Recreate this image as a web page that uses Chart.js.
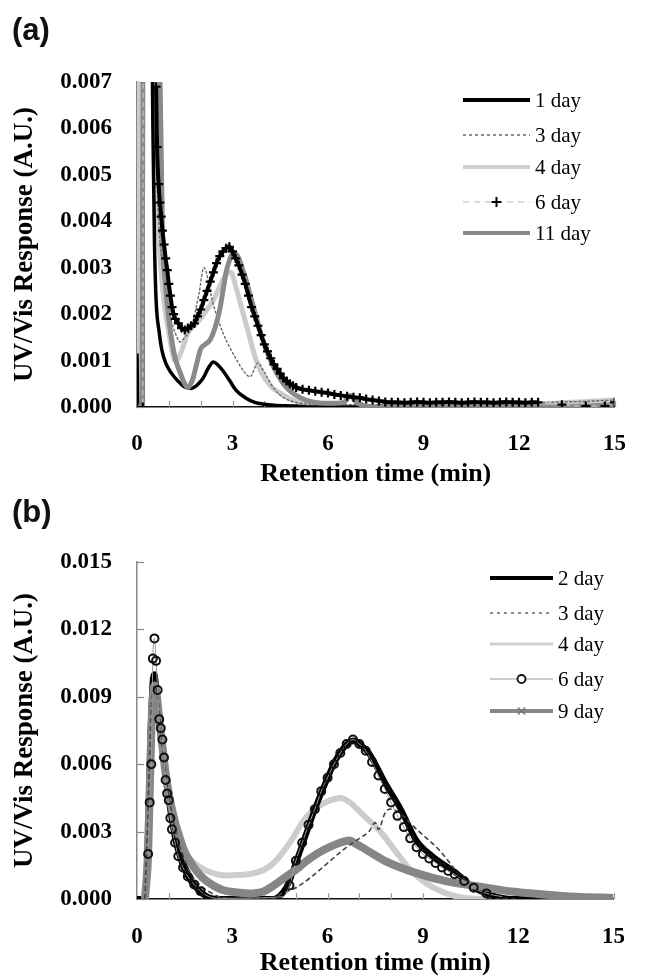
<!DOCTYPE html>
<html><head><meta charset="utf-8">
<script src="https://cdn.jsdelivr.net/npm/chart.js@4.4.1/dist/chart.umd.min.js"></script>
<style>
html,body{margin:0;padding:0;background:#fff;width:649px;height:979px;overflow:hidden}
#wrap{position:relative;width:649px;height:979px;background:#fff}
canvas{position:absolute;left:0}
#ca{top:0}
#cb{top:490px}
.panel{position:absolute;left:12px;font:bold 31px 'Liberation Sans',Arial,sans-serif;line-height:36px;color:#111}
</style></head>
<body><div id="wrap">
<canvas id="ca" width="649" height="490"></canvas>
<canvas id="cb" width="649" height="489"></canvas>
<div class="panel" style="top:12px">(a)</div>
<div class="panel" style="top:494px">(b)</div>
</div>
<script>
// ---------- Panel (a) data ----------
const labelsA = ['1 day', '3 day', '4 day', '6 day', '11 day'];
const a1x = [0, 0.03, 0.18, 0.2, 0.45, 0.5, 0.55, 0.6, 0.7, 0.78, 0.9, 1.08, 1.3, 1.5, 1.7, 1.85, 2.0, 2.1, 2.25, 2.4, 2.55, 2.7, 2.9, 3.1, 3.4, 3.7, 4.0, 4.3, 5.0, 5.5, 7.0, 9.0, 11.0, 12.6];
const a1y = [0.00115, 0, 0, 0.009, 0.009, 0.006, 0.0035, 0.0023, 0.0016, 0.00123, 0.00095, 0.00073, 0.00055, 0.00043, 0.0004, 0.00045, 0.00055, 0.00065, 0.00085, 0.00097, 0.0009, 0.00078, 0.00058, 0.00037, 0.0002, 0.0001, 0.00006, 0.00004, 0.00002, 0, 0, 0, 0, 0];
const a3x = [0, 0.18, 0.2, 0.5, 0.6, 0.7, 0.8, 0.9, 1.0, 1.1, 1.2, 1.35, 1.5, 1.7, 1.95, 2.1, 2.4, 2.7, 3.1, 3.4, 3.55, 3.8, 4.0, 4.3, 4.6, 5.0, 6.0, 8.0, 10.0, 12.0, 13.0, 14.0, 15.0];
const a3y = [0, 0, 0.009, 0.009, 0.0055, 0.0038, 0.003, 0.0025, 0.0021, 0.0018, 0.0016, 0.0014, 0.0015, 0.0017, 0.00245, 0.003, 0.0022, 0.0016, 0.00105, 0.00073, 0.00065, 0.00095, 0.00075, 0.0004, 0.0002, 0.0001, 0.00005, 0.00005, 0.00005, 0.00005, 0.0001, 0.00012, 0.00015];
const a4x = [0, 0.03, 0.55, 0.62, 0.7, 0.8, 0.9, 1.0, 1.1, 1.2, 1.3, 1.45, 1.6, 1.8, 2.0, 2.2, 2.4, 2.6, 2.8, 2.95, 3.1, 3.3, 3.5, 3.7, 3.9, 4.2, 4.5, 4.9, 5.5, 6.0, 9.0, 12.0, 15.0];
const a4y = [0, 0.009, 0.009, 0.005, 0.0035, 0.0026, 0.002, 0.0016, 0.0012, 0.001, 0.00105, 0.0013, 0.0016, 0.00175, 0.0019, 0.0021, 0.0023, 0.0026, 0.00285, 0.0029, 0.0026, 0.0021, 0.0016, 0.0011, 0.00075, 0.00045, 0.0003, 0.00015, 0.00005, 0, 0, 0.00005, 0.00015];
const a6x = [0, 0.18, 0.2, 0.55, 0.6, 0.63, 0.68, 0.72, 0.76, 0.8, 0.85, 0.9, 0.95, 1.0, 1.05, 1.1, 1.15, 1.2, 1.3, 1.4, 1.5, 1.6, 1.7, 1.8, 1.9, 2.0, 2.1, 2.2, 2.3, 2.4, 2.5, 2.6, 2.7, 2.8, 2.9, 3.0, 3.1, 3.2, 3.3, 3.4, 3.5, 3.6, 3.7, 3.8, 3.9, 4.0, 4.1, 4.2, 4.3, 4.4, 4.5, 4.6, 4.7, 4.8, 4.9, 5.0, 5.2, 5.4, 5.6, 5.8, 6.0, 6.2, 6.4, 6.6, 6.8, 7.0, 7.2, 7.4, 7.6, 7.8, 8.0, 8.2, 8.4, 8.6, 8.8, 9.0, 9.2, 9.4, 9.6, 9.8, 10.0, 10.2, 10.4, 10.6, 10.8, 11.0, 11.2, 11.4, 11.6, 11.8, 12.0, 12.2, 12.4, 12.6, 13.35, 14.1, 14.7, 15.0];
const a6y = [0, 0, 0.009, 0.009, 0.0069, 0.0056, 0.0048, 0.0044, 0.0041, 0.0038, 0.0035, 0.0032, 0.00295, 0.00265, 0.0024, 0.00215, 0.002, 0.0019, 0.0018, 0.0017, 0.00166, 0.0017, 0.00175, 0.0018, 0.00195, 0.0021, 0.0023, 0.0025, 0.0027, 0.0029, 0.0031, 0.00325, 0.00335, 0.00342, 0.00345, 0.00335, 0.0032, 0.00305, 0.00285, 0.00265, 0.0024, 0.00215, 0.00195, 0.00175, 0.00155, 0.00135, 0.0012, 0.00105, 0.00092, 0.00082, 0.00072, 0.00062, 0.00056, 0.0005, 0.00046, 0.00042, 0.00038, 0.00036, 0.00034, 0.00032, 0.0003, 0.00027, 0.00025, 0.00023, 0.00021, 0.0002, 0.00017, 0.00015, 0.00013, 0.00011, 0.0001, 0.0001, 0.00009, 0.0001, 0.00011, 0.0001, 0.00009, 0.0001, 0.0001, 0.00011, 0.0001, 0.00009, 0.0001, 0.00011, 0.0001, 0.0001, 0.00009, 0.0001, 0.00011, 0.0001, 0.0001, 0.00009, 0.0001, 0.0001, 0.00005, 0.00002, 0.00002, 0.0001];
const a11x = [0, 0.15, 0.2, 0.68, 0.72, 0.76, 0.8, 0.9, 1.0, 1.1, 1.2, 1.35, 1.5, 1.6, 1.75, 1.9, 2.0, 2.15, 2.3, 2.45, 2.6, 2.7, 2.8, 2.9, 3.0, 3.1, 3.2, 3.3, 3.4, 3.5, 3.6, 3.7, 3.8, 3.9, 4.0, 4.2, 4.4, 4.6, 4.8, 5.0, 5.3, 5.6, 6.0, 6.5, 6.7, 6.9, 7.5, 10.0, 13.0, 15.0];
const a11y = [0, 0, 0.009, 0.009, 0.0072, 0.0055, 0.0038, 0.0026, 0.0019, 0.0014, 0.00105, 0.00075, 0.0005, 0.00042, 0.0006, 0.001, 0.00125, 0.00135, 0.00145, 0.0017, 0.0021, 0.0025, 0.0029, 0.00315, 0.0033, 0.0033, 0.0032, 0.003, 0.0028, 0.00255, 0.0023, 0.00205, 0.0018, 0.00155, 0.00135, 0.001, 0.00072, 0.0005, 0.00035, 0.00025, 0.00015, 0.0001, 0.00008, 0.0001, 0.00025, 0.0001, 0, 0, 0, 0.00005];
const yTicksA = {max: 0.007, step: 0.001};

// ---------- Panel (b) data ----------
const labelsB = ['2 day', '3 day', '4 day', '6 day', '9 day'];
const b2x = [0, 0.25, 0.35, 0.42, 0.5, 0.55, 0.6, 0.7, 0.8, 0.9, 1.0, 1.1, 1.2, 1.35, 1.5, 1.7, 1.9, 2.1, 2.3, 2.6, 4.3, 4.6, 4.8, 5.0, 5.3, 5.6, 6.0, 6.3, 6.7, 6.85, 7.0, 7.3, 7.8, 8.3, 8.8, 9.3, 9.8, 10.1, 10.5, 10.8, 11.2, 11.8, 12.6];
const b2y = [0, 0, 0.003, 0.007, 0.0098, 0.01, 0.0095, 0.0082, 0.0068, 0.0055, 0.0044, 0.0035, 0.0027, 0.0019, 0.0013, 0.0008, 0.00045, 0.0002, 0.00005, 0, 0, 0.0003, 0.0008, 0.0016, 0.0028, 0.004, 0.0054, 0.0063, 0.007, 0.00705, 0.0069, 0.0065, 0.0052, 0.004, 0.0026, 0.0019, 0.0014, 0.0011, 0.0006, 0.00035, 0.00015, 0, 0];
const b3x = [0.25, 0.35, 0.45, 0.55, 0.65, 0.8, 1.0, 1.2, 1.4, 1.6, 1.8, 2.0, 2.3, 2.6, 3.0, 4.3, 4.5, 5.0, 5.5, 6.0, 6.5, 7.0, 7.3, 7.5, 7.6, 7.8, 7.95, 8.2, 8.8, 9.5, 10.2, 10.8, 11.2, 12.0];
const b3y = [0, 0.004, 0.0085, 0.0095, 0.009, 0.0068, 0.0046, 0.0031, 0.0021, 0.0014, 0.0009, 0.0006, 0.0003, 0.0001, 0, 0, 0.0002, 0.0005, 0.001, 0.0016, 0.0022, 0.0027, 0.003, 0.0034, 0.0031, 0.0038, 0.004, 0.0039, 0.0031, 0.0022, 0.001, 0.0003, 0, 0];
const b4x = [0.25, 0.35, 0.45, 0.55, 0.6, 0.7, 0.8, 1.0, 1.2, 1.4, 1.6, 1.8, 2.0, 2.3, 2.8, 3.5, 4.0, 4.3, 4.6, 4.9, 5.2, 5.5, 5.8, 6.1, 6.4, 6.7, 7.0, 7.3, 7.6, 8.1, 8.6, 9.1, 9.7, 10.3, 11.0];
const b4y = [0, 0.004, 0.0085, 0.0095, 0.0093, 0.0082, 0.0068, 0.0046, 0.0031, 0.0024, 0.0019, 0.0016, 0.0014, 0.0012, 0.00105, 0.0011, 0.0013, 0.0016, 0.0021, 0.0027, 0.0034, 0.0039, 0.0042, 0.0044, 0.0045, 0.0043, 0.0039, 0.0035, 0.0031, 0.0022, 0.0013, 0.0007, 0.00027, 0.00005, 0];
const b6x = [0.35, 0.4, 0.45, 0.5, 0.55, 0.6, 0.65, 0.7, 0.75, 0.8, 0.85, 0.9, 0.95, 1.0, 1.05, 1.1, 1.2, 1.3, 1.45, 1.6, 1.8, 2.0, 2.2, 2.5, 4.6, 4.8, 5.0, 5.2, 5.4, 5.6, 5.8, 6.0, 6.2, 6.4, 6.6, 6.8, 7.0, 7.2, 7.4, 7.6, 7.8, 8.0, 8.2, 8.4, 8.6, 8.8, 9.0, 9.2, 9.4, 9.6, 9.8, 10.0, 10.3, 10.6, 11.0, 11.5];
const b6y = [0.002, 0.0043, 0.006, 0.0107, 0.0116, 0.0106, 0.0093, 0.008, 0.0076, 0.0071, 0.0063, 0.0053, 0.0047, 0.0044, 0.0036, 0.0031, 0.0025, 0.0019, 0.0014, 0.001, 0.00065, 0.00035, 0.00015, 0.00003, 0.0001, 0.0006, 0.0017, 0.0025, 0.0033, 0.004, 0.0048, 0.0054, 0.006, 0.0065, 0.0069, 0.0071, 0.0069, 0.0066, 0.0061, 0.0055, 0.0049, 0.0043, 0.0037, 0.0032, 0.0027, 0.0023, 0.002, 0.0018, 0.0016, 0.0014, 0.00125, 0.0011, 0.0008, 0.0005, 0.00025, 0.0001];
const b9x = [0.25, 0.35, 0.45, 0.55, 0.6, 0.7, 0.8, 0.9, 1.0, 1.1, 1.2, 1.35, 1.5, 1.7, 1.9, 2.1, 2.4, 2.7, 3.1, 3.5, 4.0, 4.3, 4.7, 5.0, 5.3, 5.6, 5.9, 6.2, 6.5, 6.7, 6.9, 7.2, 7.8, 8.8, 9.8, 10.8, 11.8, 12.8, 13.8, 15.0];
const b9y = [0, 0.002, 0.0075, 0.0095, 0.0093, 0.008, 0.0068, 0.0056, 0.0047, 0.004, 0.0034, 0.0027, 0.0021, 0.0016, 0.0012, 0.0009, 0.0006, 0.0004, 0.0003, 0.00025, 0.00035, 0.0006, 0.001, 0.0013, 0.00165, 0.00195, 0.0022, 0.0024, 0.00255, 0.0026, 0.00245, 0.0022, 0.0017, 0.00115, 0.00077, 0.00055, 0.00033, 0.0002, 0.0001, 0.00005];
const yTicksB = {max: 0.015, step: 0.003};

const xRange = {min: 0, max: 15, step: 3};
const xTitle = 'Retention time (min)';
const yTitle = 'UV/Vis Response (A.U.)';

// ---------- helpers ----------
const pts = (xs, ys) => xs.map((x, i) => ({x: x, y: ys[i]}));
const SERIF = "'Liberation Serif','Times New Roman',serif";

function drawMarker(ctx, style, x, y, r, color, lw, fill) {
  ctx.save();
  ctx.setLineDash([]);
  ctx.strokeStyle = color; ctx.lineWidth = lw;
  ctx.beginPath();
  if (style === 'cross') { ctx.moveTo(x - r, y); ctx.lineTo(x + r, y); ctx.moveTo(x, y - r); ctx.lineTo(x, y + r); ctx.stroke(); }
  else if (style === 'crossRot') { ctx.moveTo(x - r, y - r); ctx.lineTo(x + r, y + r); ctx.moveTo(x - r, y + r); ctx.lineTo(x + r, y - r); ctx.stroke(); }
  else { ctx.arc(x, y, r, 0, Math.PI * 2); if (fill) { ctx.fillStyle = fill; ctx.fill(); } ctx.stroke(); }
  ctx.restore();
}

const insideTicks = {
  id: 'insideTicks',
  beforeDatasetsDraw(chart, args, o) {
    const {ctx, chartArea: a} = chart;
    const x = chart.scales.x, y = chart.scales.y;
    ctx.save();
    ctx.lineWidth = 1.2;
    ctx.strokeStyle = o.yColor;
    y.ticks.forEach(t => {
      const py = Math.round(y.getPixelForValue(t.value)) + 0.5;
      ctx.beginPath(); ctx.moveTo(a.left, py); ctx.lineTo(a.left + 7, py); ctx.stroke();
    });
    ctx.strokeStyle = o.xColor;
    for (let m = 1; m <= 15; m++) {
      const px = Math.round(x.getPixelForValue(m)) + 0.5;
      ctx.beginPath(); ctx.moveTo(px, a.bottom); ctx.lineTo(px, a.bottom - 6); ctx.stroke();
    }
    ctx.restore();
  }
};

const serifLegend = {
  id: 'serifLegend',
  afterDatasetsDraw(chart, args, o) {
    const ctx = chart.ctx;
    ctx.save();
    chart.data.datasets.forEach((ds, i) => {
      const it = o.items[i];
      const y = o.ys[i];
      ctx.beginPath();
      ctx.setLineDash(it.dash || []);
      ctx.lineWidth = it.width; ctx.strokeStyle = it.color; ctx.lineCap = 'butt';
      ctx.moveTo(o.x0, y); ctx.lineTo(o.x1, y); ctx.stroke();
      ctx.setLineDash([]);
      if (it.marker) drawMarker(ctx, it.marker, (o.x0 + o.x1) / 2, y, it.mr, it.mc, it.mw, it.mfill);
      ctx.fillStyle = '#000';
      ctx.font = o.font;
      ctx.textBaseline = 'middle'; ctx.textAlign = 'left';
      ctx.fillText(ds.label, o.tx, y + 1);
    });
    ctx.restore();
  }
};

function baseOptions(cfg) {
  const tickFont = {family: SERIF, size: 23, weight: 'bold'};
  return {
    responsive: false, animation: false, devicePixelRatio: 1,
    layout: {padding: {top: cfg.top, right: 12, left: 0, bottom: 0}},
    elements: {point: {radius: 0, hoverRadius: 0}, line: {cubicInterpolationMode: 'monotone', fill: false}},
    events: [],
    plugins: {
      legend: {display: false}, tooltip: {enabled: false},
      insideTicks: {xColor: '#999', yColor: '#888'},
      serifLegend: cfg.legend
    },
    scales: {
      x: {
        type: 'linear', min: xRange.min, max: xRange.max,
        grid: {display: false, drawTicks: false},
        border: {display: true, color: '#111', width: 1.5},
        ticks: {stepSize: xRange.step, padding: cfg.xpad, color: '#000', font: tickFont, maxRotation: 0, autoSkip: false, callback: v => String(v)},
        title: {display: true, text: xTitle, color: '#000', font: {family: SERIF, size: 26, weight: 'bold'}, padding: {top: 0, bottom: 0}},
        afterFit: s => { s.height = cfg.xh; }
      },
      y: {
        type: 'linear', min: 0, max: cfg.ymax,
        grid: {display: false, drawTicks: false},
        border: {display: true, color: '#888', width: 1.5},
        ticks: {stepSize: cfg.ystep, padding: 25, color: '#000', font: tickFont, autoSkip: false, callback: v => Number(v).toFixed(3)},
        title: {display: true, text: yTitle, color: '#000', font: {family: SERIF, size: 27, weight: 'bold'}, padding: {top: 9, bottom: 0}},
        afterFit: s => { s.width = 137; }
      }
    }
  };
}

// dense-marker band of the 6 day series (markers overlap into a solid black band)
const denseBand = c => c.p0.parsed.x >= 0.6 && c.p1.parsed.x <= 12.6;

// ---------- Chart (a) ----------
const legendFont = "21px " + SERIF;
new Chart(document.getElementById('ca'), {
  type: 'line',
  data: {datasets: [
    {label: labelsA[0], data: pts(a1x, a1y), borderColor: '#000', borderWidth: 3.5, order: 2},
    {label: labelsA[1], data: pts(a3x, a3y), borderColor: '#6a6a6a', borderWidth: 1.4, borderDash: [3, 1.5], order: 3},
    {label: labelsA[2], data: pts(a4x, a4y), borderColor: '#cbcbcb', borderWidth: 5, order: 4},
    {label: labelsA[3], data: pts(a6x, a6y), borderColor: '#c4c4c4', borderWidth: 1.2, borderDash: [5, 4], order: 0,
      pointStyle: 'cross', pointRadius: 4.5, pointBorderColor: '#000', pointBorderWidth: 2.2,
      segment: {
        borderColor: c => denseBand(c) ? '#000' : undefined,
        borderWidth: c => denseBand(c) ? 4 : undefined,
        borderDash: c => denseBand(c) ? [] : undefined
      }},
    {label: labelsA[4], data: pts(a11x, a11y), borderColor: '#8a8a8a', borderWidth: 5, order: 1}
  ]},
  options: baseOptions({top: 82, xh: 83, xpad: 23, ymax: yTicksA.max, ystep: yTicksA.step,
    legend: {x0: 463, x1: 530, tx: 535, ys: [100, 135, 167, 202, 233], font: legendFont, items: [
      {color: '#000', width: 4},
      {color: '#666', width: 1.3, dash: [3, 3]},
      {color: '#cfcfcf', width: 4},
      {color: '#cfcfcf', width: 1.3, dash: [6, 5], marker: 'cross', mr: 5, mc: '#000', mw: 2},
      {color: '#8a8a8a', width: 4}
    ]}}),
  plugins: [insideTicks, serifLegend]
});

// ---------- Chart (b) ----------
new Chart(document.getElementById('cb'), {
  type: 'line',
  data: {datasets: [
    {label: labelsB[0], data: pts(b2x, b2y), borderColor: '#000', borderWidth: 6, order: 3},
    {label: labelsB[1], data: pts(b3x, b3y), borderColor: '#444', borderWidth: 1.6, borderDash: [5, 3], order: 1},
    {label: labelsB[2], data: pts(b4x, b4y), borderColor: '#cdcdcd', borderWidth: 6, order: 4},
    {label: labelsB[3], data: pts(b6x, b6y), borderColor: '#999', borderWidth: 1, order: 0,
      pointStyle: 'circle', pointRadius: c => (c.raw && c.raw.y > 0.0002) ? 4 : 0, pointBorderColor: '#111', pointBorderWidth: 2, pointBackgroundColor: 'rgba(0,0,0,0)'},
    {label: labelsB[4], data: pts(b9x, b9y), borderColor: '#868686', borderWidth: 8, order: 2}
  ]},
  options: baseOptions({top: 72, xh: 80, xpad: 24, ymax: yTicksB.max, ystep: yTicksB.step,
    legend: {x0: 490, x1: 553, tx: 558, ys: [88, 123, 154, 189, 221], font: legendFont, items: [
      {color: '#000', width: 4},
      {color: '#666', width: 1.3, dash: [3, 4]},
      {color: '#cfcfcf', width: 3},
      {color: '#999', width: 1, marker: 'circle', mr: 4, mc: '#111', mw: 1.8, mfill: '#fff'},
      {color: '#868686', width: 4, marker: 'crossRot', mr: 3.5, mc: '#777', mw: 1.5}
    ]}}),
  plugins: [insideTicks, serifLegend]
});
</script></body></html>
